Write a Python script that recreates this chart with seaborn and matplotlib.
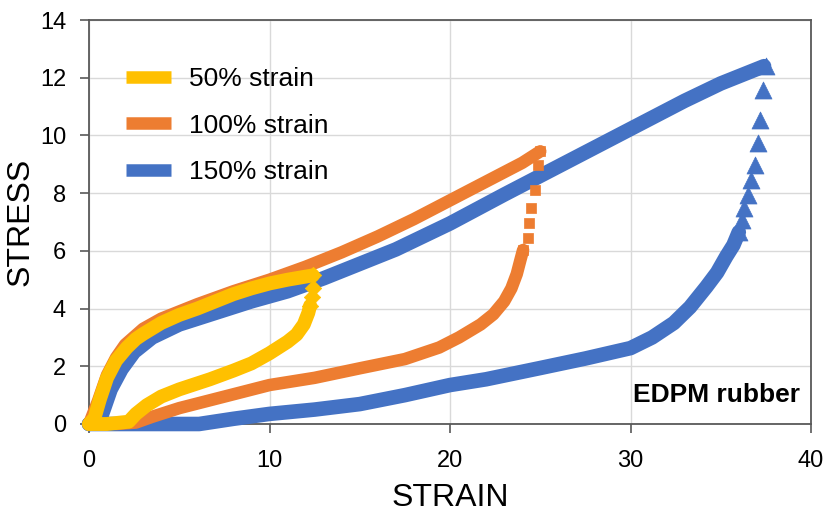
import matplotlib
matplotlib.use("Agg")
import matplotlib.pyplot as plt
from matplotlib.lines import Line2D
import seaborn as sns
import pandas as pd

# ---------------- data ----------------
series_names = ["50% strain", "100% strain", "150% strain"]
colors = ["#FFC000", "#ED7D31", "#4472C4"]
markers = ["D", "s", "^"]

# 50% strain
y50_load_x = [0, 0.3, 0.6, 1.0, 1.5, 2.1, 2.6, 3.0, 4.0, 5.0, 6.0, 7.0, 8.0, 9.0, 10.0, 11.0, 12.4]
y50_load_y = [0, 0.2, 0.85, 1.6, 2.2, 2.65, 2.95, 3.12, 3.5, 3.78, 4.0, 4.25, 4.5, 4.7, 4.87, 5.0, 5.15]
y50_tip_x = [12.4, 12.4, 12.35, 12.25]
y50_tip_y = [5.15, 4.7, 4.4, 4.1]
y50_unl_x = [12.25, 12.15, 11.9, 11.5, 11.0, 10.0, 9.0, 8.0, 6.7, 5.0, 4.0, 3.2, 2.6, 2.2, 1.0, 0.0]
y50_unl_y = [4.1, 3.85, 3.45, 3.1, 2.85, 2.45, 2.1, 1.85, 1.55, 1.2, 0.95, 0.65, 0.35, 0.08, 0.0, 0.0]

# 100% strain
o100_load_x = [0, 0.5, 1.0, 1.5, 2.0, 3.0, 4.0, 5.0, 6.0, 8.0, 10.0, 12.0, 14.0, 16.0, 18.0, 20.0, 22.0, 24.0, 25.0]
o100_load_y = [0, 0.8, 1.7, 2.3, 2.75, 3.3, 3.65, 3.9, 4.15, 4.6, 5.0, 5.45, 5.95, 6.5, 7.1, 7.75, 8.4, 9.05, 9.45]
o100_tip_x = [25.0, 24.9, 24.7, 24.5, 24.4, 24.3, 24.05]
o100_tip_y = [9.45, 8.97, 8.1, 7.48, 6.96, 6.44, 6.03]
o100_unl_x = [24.05, 23.9, 23.7, 23.4, 23.0, 22.4, 21.7, 20.5, 19.4, 17.5, 15.0, 12.5, 10.0, 7.5, 5.0, 3.5, 2.6, 1.5]
o100_unl_y = [6.03, 5.68, 5.2, 4.7, 4.25, 3.8, 3.45, 3.0, 2.65, 2.25, 1.93, 1.6, 1.35, 0.95, 0.55, 0.25, 0.05, 0.0]

# 150% strain
b150_load_x = [0, 0.7, 1.2, 1.8, 2.5, 3.5, 5.0, 7.0, 9.0, 11.0, 13.0, 15.0, 17.0, 20.0, 23.0, 25.0, 27.0, 29.0, 31.0, 33.0, 35.0, 37.4]
b150_load_y = [0, 0.3, 1.2, 1.9, 2.5, 3.0, 3.45, 3.85, 4.25, 4.6, 5.05, 5.55, 6.05, 6.95, 7.95, 8.6, 9.25, 9.9, 10.55, 11.2, 11.8, 12.4]
b150_tip_x = [37.5, 37.35, 37.2, 37.05, 36.9, 36.7, 36.5, 36.3, 36.2, 36.0]
b150_tip_y = [12.4, 11.57, 10.53, 9.74, 8.97, 8.45, 7.93, 7.48, 7.07, 6.65]
b150_unl_x = [36.0, 35.7, 35.3, 34.8, 34.2, 33.3, 32.4, 31.2, 30.0, 27.5, 25.0, 22.0, 20.0, 17.5, 15.0, 12.5, 10.0, 8.0, 6.1, 3.0, 0.0]
b150_unl_y = [6.65, 6.2, 5.8, 5.25, 4.75, 4.05, 3.5, 3.0, 2.63, 2.27, 1.94, 1.55, 1.35, 1.0, 0.69, 0.5, 0.35, 0.18, 0.0, 0.0, 0.0]

x_ticks = [0, 10, 20, 30, 40]
y_ticks = [0, 2, 4, 6, 8, 10, 12, 14]

# ---------------- style ----------------
sns.set_style("white")
plt.rcParams["font.family"] = ["Liberation Sans", "DejaVu Sans"]
plt.rcParams["text.color"] = "#000000"
plt.rcParams["axes.labelcolor"] = "#000000"

fig = plt.figure(figsize=(8.27, 5.15), dpi=100)
ax = fig.add_axes([89 / 827, 1 - 424 / 515, (811 - 89) / 827, (424 - 20) / 515])

curves = [
    (y50_load_x, y50_load_y, y50_tip_x, y50_tip_y, y50_unl_x, y50_unl_y, 10.0, 70),
    (o100_load_x, o100_load_y, o100_tip_x, o100_tip_y, o100_unl_x, o100_unl_y, 9.0, 55),
    (b150_load_x, b150_load_y, b150_tip_x, b150_tip_y, b150_unl_x, b150_unl_y, 10.5, 150),
]
zorders = [5, 4, 3]

for i, (lx, ly, tx, ty, ux, uy, lw, ms) in enumerate(curves):
    c = colors[i]
    z = zorders[i]
    for xs, ys in ((lx, ly), (ux, uy)):
        df = pd.DataFrame({"strain": xs, "stress": ys})
        sns.lineplot(data=df, x="strain", y="stress", sort=False, estimator=None,
                     color=c, linewidth=lw, ax=ax, zorder=z, clip_on=False,
                     solid_joinstyle="round", solid_capstyle="round", legend=False)
    dft = pd.DataFrame({"strain": tx, "stress": ty})
    sns.scatterplot(data=dft, x="strain", y="stress", marker=markers[i], s=ms,
                    color=c, edgecolor=c, linewidth=0.5, ax=ax, zorder=z,
                    clip_on=False, legend=False)

ax.set_xlim(0, 40)
ax.set_ylim(0, 14)
ax.set_xticks(x_ticks)
ax.set_yticks(y_ticks)
ax.set_xticklabels([str(v) for v in x_ticks])
ax.set_yticklabels([str(v) for v in y_ticks])

ax.grid(True, color="#d9d9d9", linewidth=1.0)
ax.set_axisbelow(True)
for sp in ax.spines.values():
    sp.set_visible(True)
    sp.set_color("#595959")
    sp.set_linewidth(1.3)

ax.tick_params(axis="both", which="major", direction="out", length=6.5, width=1.2,
               color="#595959", labelsize=17, labelcolor="#000000")
ax.tick_params(axis="x", pad=12)
ax.tick_params(axis="y", pad=10)
ax.tick_params(top=False, right=False, bottom=True, left=True)

ax.set_xlabel("STRAIN", fontsize=23, labelpad=8)
ax.set_ylabel("STRESS", fontsize=23, labelpad=3)

ax.text(0.985, 0.072, "EDPM rubber", transform=ax.transAxes, ha="right", va="center",
        fontsize=19, fontweight="bold", color="#000000", zorder=10)

handles = [Line2D([0], [0], color=c, lw=9, solid_capstyle="butt") for c in colors]
ax.legend(handles, series_names, loc="upper left", bbox_to_anchor=(0.051, 0.883),
          frameon=False, fontsize=19, handlelength=1.7, handletextpad=0.7,
          labelspacing=0.85, borderpad=0, borderaxespad=0, labelcolor="#000000")

fig.savefig("out.png", dpi=100)
